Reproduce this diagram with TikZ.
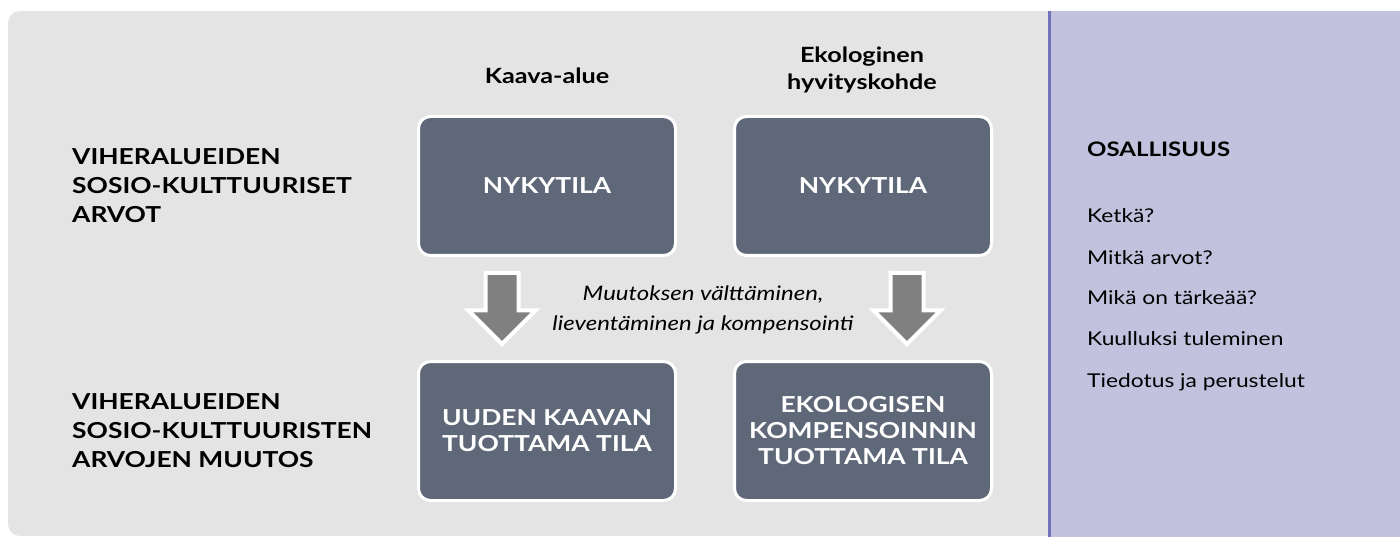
\documentclass[tikz,border=0pt]{standalone}
\usepackage{fontspec}
\setmainfont{Lato}[FakeStretch=1.2]
\usetikzlibrary{shapes.arrows}
\definecolor{taustaharmaa}{HTML}{E4E4E4}
\definecolor{laatikko}{HTML}{5F6878}
\definecolor{nuoli}{HTML}{808080}
\definecolor{violetti}{HTML}{C2C2DE}
\definecolor{violettiraja}{HTML}{7272B8}
\tikzset{
  tilabox/.style={draw=white, line width=3pt, fill=laatikko, rounded corners=12pt,
    minimum width=257pt, minimum height=139pt, text=white, align=center,
    font=\bfseries\fontsize{22}{26}\selectfont},
  rivi/.style={anchor=west, align=left, inner sep=0pt, font=\bfseries\fontsize{22}{29}\selectfont},
  otsikko/.style={align=center, inner sep=0pt, font=\bfseries\fontsize{21}{27}\selectfont},
  kursiivi/.style={align=center, inner sep=0pt, font=\itshape\fontsize{20}{30}\selectfont},
  alasnuoli/.style={single arrow, shape border rotate=270, draw=white, line width=4pt,
    fill=nuoli, inner xsep=14.5pt, inner ysep=14.5pt, single arrow head extend=17pt,
    minimum height=71pt, anchor=tail},
  kohta/.style={anchor=base west, inner sep=0pt, font=\fontsize{19}{23}\selectfont}
}
\begin{document}
\begin{tikzpicture}[x=1pt, y=-1pt]
  \useasboundingbox (0,0) rectangle (1400,537);
  % taustat
  \fill[taustaharmaa, rounded corners=12pt] (8,11) rectangle (1070,536);
  \fill[violetti] (1048,11) rectangle (1400,537);
  \draw[violettiraja, line width=3pt] (1049.5,11) -- (1049.5,537);

  \draw
    (547,186) node[tilabox] (nyk1) {NYKYTILA}
    (863,186) node[tilabox] (nyk2) {NYKYTILA}
    (547,431) node[tilabox] (uusi) {UUDEN KAAVAN\\TUOTTAMA TILA}
    (863,431) node[tilabox] (komp) {EKOLOGISEN\\KOMPENSOINNIN\\TUOTTAMA TILA};
  \draw
    (547,76) node[otsikko] (kaava) {Kaava-alue}
    (862,70) node[otsikko] (hyvitys) {Ekologinen\\hyvityskohde}
    (72,186) node[rivi] (arvot) {VIHERALUEIDEN\\SOSIO-KULTTUURISET\\ARVOT}
    (72,431) node[rivi] (muutos) {VIHERALUEIDEN\\SOSIO-KULTTUURISTEN\\ARVOJEN MUUTOS}
    (703,310) node[kursiivi] (keinot) {Muutoksen välttäminen,\\lieventäminen ja kompensointi};

  % nuolet
  \node[alasnuoli] (nuoli1) at ([xshift=-45pt, yshift=-14pt]nyk1.south) {};
  \node[alasnuoli] (nuoli2) at ([xshift=44pt, yshift=-14pt]nyk2.south) {};

  % osallisuus
  \draw
    (1087,157) node[kohta, font=\bfseries\fontsize{20}{24}\selectfont] (osallisuus) {OSALLISUUS}
    (1087,223) node[kohta] (ketka) {Ketkä?}
    (1087,265) node[kohta] (mitka) {Mitkä arvot?}
    (1087,305) node[kohta] (mika) {Mikä on tärkeää?}
    (1087,345) node[kohta] (kuulluksi) {Kuulluksi tuleminen}
    (1087,387) node[kohta] (tiedotus) {Tiedotus ja perustelut};
\end{tikzpicture}
\end{document}
